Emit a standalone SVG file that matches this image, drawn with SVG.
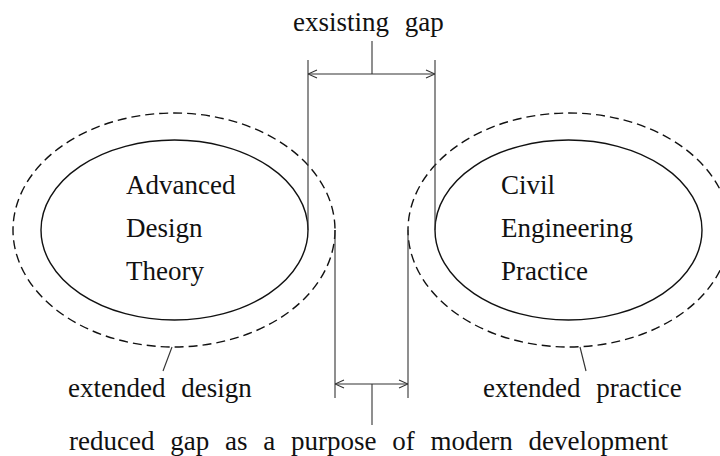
<svg xmlns="http://www.w3.org/2000/svg" width="720" height="456" viewBox="0 0 720 456">
<style>
text{font-family:"Liberation Serif","Times New Roman",serif;font-size:27px;fill:#111}
.lbl{word-spacing:9px}
.inner{fill:none;stroke:#111;stroke-width:1.4}
.outer{fill:none;stroke:#111;stroke-width:1.4;stroke-dasharray:9 5}
.ln{fill:none;stroke:#333;stroke-width:1.1}
</style>
<defs>
<marker id="ah" viewBox="0 0 10 10" refX="10" refY="5" markerWidth="10" markerHeight="10" markerUnits="userSpaceOnUse" orient="auto-start-reverse">
<path d="M1,1 L10,5 L1,9" fill="none" stroke="#333" stroke-width="1.1"/>
</marker>
</defs>
<rect width="720" height="456" fill="#fff"/>
<g id="node-design">
<ellipse class="outer" cx="174" cy="230" rx="161" ry="117"/>
<ellipse class="inner" cx="174.5" cy="230" rx="133.5" ry="90"/>
<text x="126" y="194">Advanced</text>
<text x="126" y="237">Design</text>
<text x="126" y="280">Theory</text>
</g>
<g id="node-practice">
<ellipse class="outer" cx="569" cy="230" rx="161" ry="117"/>
<ellipse class="inner" cx="568.5" cy="230" rx="133.5" ry="90"/>
<text x="501" y="194">Civil</text>
<text x="501" y="237">Engineering</text>
<text x="501" y="280">Practice</text>
</g>
<g id="connectors">
<line class="ln" x1="308" y1="60" x2="308" y2="230"/>
<line class="ln" x1="435" y1="60" x2="435" y2="230"/>
<line class="ln" x1="308" y1="74" x2="435" y2="74" marker-start="url(#ah)" marker-end="url(#ah)"/>
<line class="ln" x1="372" y1="41" x2="372" y2="74"/>
<line class="ln" x1="335" y1="230" x2="335" y2="398"/>
<line class="ln" x1="408" y1="230" x2="408" y2="398"/>
<line class="ln" x1="335" y1="384" x2="408" y2="384" marker-start="url(#ah)" marker-end="url(#ah)"/>
<line class="ln" x1="372" y1="384" x2="372" y2="425"/>
<line class="ln" x1="172" y1="347" x2="163" y2="371"/>
<line class="ln" x1="580" y1="347" x2="586" y2="371"/>
</g>
<g id="label-existing">
<text class="lbl" x="293" y="31">exsisting gap</text>
</g>
<g id="label-ext-design">
<text class="lbl" x="68" y="397">extended design</text>
</g>
<g id="label-ext-practice">
<text class="lbl" x="483" y="397">extended practice</text>
</g>
<g id="label-reduced">
<text class="lbl" x="69" y="450">reduced gap as a purpose of modern development</text>
</g>
</svg>
